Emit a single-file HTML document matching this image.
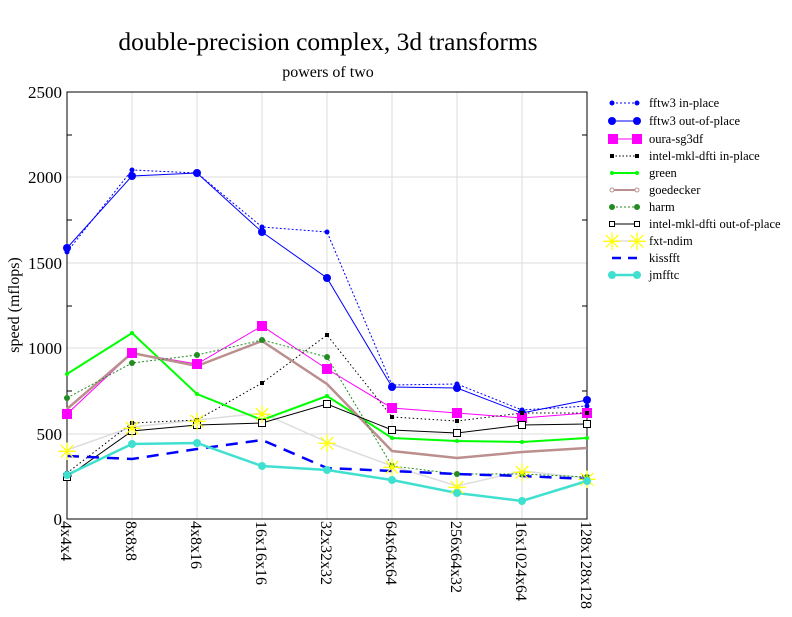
<!DOCTYPE html><html><head><style>body{margin:0;background:#fff}svg{font-family:"Liberation Serif",serif}</style></head><body>
<svg width="792" height="612" xmlns="http://www.w3.org/2000/svg">
<text x="328" y="50" font-size="25.5" text-anchor="middle">double-precision complex, 3d transforms</text>
<text x="328" y="77" font-size="16" text-anchor="middle">powers of two</text>
<g stroke="#ddd" stroke-width="1">
<line x1="67" y1="92" x2="587" y2="92"/><line x1="67" y1="177" x2="587" y2="177"/><line x1="67" y1="263" x2="587" y2="263"/><line x1="67" y1="348" x2="587" y2="348"/><line x1="67" y1="434" x2="587" y2="434"/>
<line x1="132" y1="92" x2="132" y2="519"/><line x1="197" y1="92" x2="197" y2="519"/><line x1="262" y1="92" x2="262" y2="519"/><line x1="327" y1="92" x2="327" y2="519"/><line x1="392" y1="92" x2="392" y2="519"/><line x1="457" y1="92" x2="457" y2="519"/><line x1="522" y1="92" x2="522" y2="519"/>
</g>
<g stroke="#000" stroke-width="1">
<rect x="67" y="92" width="520" height="427" fill="none"/>
<line x1="67" y1="135" x2="72" y2="135"/><line x1="67" y1="220" x2="72" y2="220"/><line x1="67" y1="306" x2="72" y2="306"/><line x1="67" y1="391" x2="72" y2="391"/><line x1="67" y1="476" x2="72" y2="476"/>
<line x1="582" y1="135" x2="587" y2="135"/><line x1="582" y1="220" x2="587" y2="220"/><line x1="582" y1="306" x2="587" y2="306"/><line x1="582" y1="391" x2="587" y2="391"/><line x1="582" y1="476" x2="587" y2="476"/>
</g>
<g font-size="17" text-anchor="end">
<text x="62" y="98">2500</text><text x="62" y="183">2000</text><text x="62" y="269">1500</text><text x="62" y="354">1000</text><text x="62" y="440">500</text><text x="62" y="525">0</text>
</g>
<text transform="translate(19,305) rotate(-90)" font-size="16" text-anchor="middle">speed (mflops)</text>
<g font-size="16">
<text transform="translate(61,521) rotate(90)">4x4x4</text>
<text transform="translate(126,521) rotate(90)">8x8x8</text>
<text transform="translate(191,521) rotate(90)">4x8x16</text>
<text transform="translate(256,521) rotate(90)">16x16x16</text>
<text transform="translate(321,521) rotate(90)">32x32x32</text>
<text transform="translate(386,521) rotate(90)">64x64x64</text>
<text transform="translate(451,521) rotate(90)">256x64x32</text>
<text transform="translate(516,521) rotate(90)">16x1024x64</text>
<text transform="translate(581,521) rotate(90)">128x128x128</text>
</g>
<g fill="none">
<polyline stroke="#ddd" stroke-width="1.5" points="67,450 132,427 197,420 262,413 327,442 392,466 457,486 522,471 587,478"/>
<polyline stroke="#00f" stroke-width="1" stroke-dasharray="2,2" points="67,252 132,170 197,173 262,227 327,232 392,385 457,384 522,410 587,406"/>
<polyline stroke="#00f" stroke-width="1" points="67,248 132,176 197,173 262,232 327,278 392,387 457,388 522,413 587,400"/>
<polyline stroke="#f0f" stroke-width="1" points="67,414 132,353 197,364 262,326 327,369 392,408 457,413 522,418 587,413"/>
<polyline stroke="#000" stroke-width="1" stroke-dasharray="1.5,2.5" points="67,473 132,423 197,420 262,383 327,335 392,417 457,421 522,413 587,413"/>
<polyline stroke="#0f0" stroke-width="2" points="67,374 132,333 197,394 262,420 327,396 392,438 457,441 522,442 587,438"/>
<polyline stroke="#bc8f8f" stroke-width="2.5" points="67,409 132,353 197,366 262,341 327,384 392,451 457,458 522,452 587,448"/>
<polyline stroke="#228b22" stroke-width="1" stroke-dasharray="2,2" points="67,398 132,363 197,355 262,340 327,357 392,466 457,474 522,474 587,477"/>
<polyline stroke="#000" stroke-width="1" points="67,477 132,431 197,425 262,423 327,404 392,430 457,433 522,425 587,424"/>
<polyline stroke="#00f" stroke-width="2.5" stroke-dasharray="12,8" points="67,456 132,459 197,449 262,440 327,468 392,471 457,474 522,476 587,479"/>
<polyline stroke="#40e0d0" stroke-width="2.5" points="67,475 132,444 197,443 262,466 327,470 392,480 457,493 522,501 587,481"/>
</g>
<g fill="#00f"><circle cx="67" cy="252" r="2.5"/><circle cx="132" cy="170" r="2.5"/><circle cx="197" cy="173" r="2.5"/><circle cx="262" cy="227" r="2.5"/><circle cx="327" cy="232" r="2.5"/><circle cx="392" cy="385" r="2.5"/><circle cx="457" cy="384" r="2.5"/><circle cx="522" cy="410" r="2.5"/><circle cx="587" cy="406" r="2.5"/>
<circle cx="67" cy="248" r="4"/><circle cx="132" cy="176" r="4"/><circle cx="197" cy="173" r="4"/><circle cx="262" cy="232" r="4"/><circle cx="327" cy="278" r="4"/><circle cx="392" cy="387" r="4"/><circle cx="457" cy="388" r="4"/><circle cx="522" cy="413" r="4"/><circle cx="587" cy="400" r="4"/></g>
<g fill="#f0f"><rect x="62" y="409" width="10" height="10"/><rect x="127" y="348" width="10" height="10"/><rect x="192" y="359" width="10" height="10"/><rect x="257" y="321" width="10" height="10"/><rect x="322" y="364" width="10" height="10"/><rect x="387" y="403" width="10" height="10"/><rect x="452" y="408" width="10" height="10"/><rect x="517" y="413" width="10" height="10"/><rect x="582" y="408" width="10" height="10"/></g>
<g fill="#000"><rect x="65" y="471" width="4" height="4"/><rect x="130" y="421" width="4" height="4"/><rect x="195" y="418" width="4" height="4"/><rect x="260" y="381" width="4" height="4"/><rect x="325" y="333" width="4" height="4"/><rect x="390" y="415" width="4" height="4"/><rect x="455" y="419" width="4" height="4"/><rect x="520" y="411" width="4" height="4"/><rect x="585" y="411" width="4" height="4"/></g>
<g fill="#0f0"><circle cx="67" cy="374" r="2"/><circle cx="132" cy="333" r="2"/><circle cx="197" cy="394" r="2"/><circle cx="262" cy="420" r="2"/><circle cx="327" cy="396" r="2"/><circle cx="392" cy="438" r="2"/><circle cx="457" cy="441" r="2"/><circle cx="522" cy="442" r="2"/><circle cx="587" cy="438" r="2"/></g>
<g fill="#228b22"><circle cx="67" cy="398" r="3"/><circle cx="132" cy="363" r="3"/><circle cx="197" cy="355" r="3"/><circle cx="262" cy="340" r="3"/><circle cx="327" cy="357" r="3"/><circle cx="392" cy="466" r="3"/><circle cx="457" cy="474" r="3"/><circle cx="522" cy="474" r="3"/><circle cx="587" cy="477" r="3"/></g>
<g fill="#fff" stroke="#000"><rect x="63.5" y="473.5" width="7" height="7"/><rect x="128.5" y="427.5" width="7" height="7"/><rect x="193.5" y="421.5" width="7" height="7"/><rect x="258.5" y="419.5" width="7" height="7"/><rect x="323.5" y="400.5" width="7" height="7"/><rect x="388.5" y="426.5" width="7" height="7"/><rect x="453.5" y="429.5" width="7" height="7"/><rect x="518.5" y="421.5" width="7" height="7"/><rect x="583.5" y="420.5" width="7" height="7"/></g>
<g fill="#ff0" font-size="24" text-anchor="middle"><text x="67" y="460">✳</text><text x="132" y="437">✳</text><text x="197" y="430">✳</text><text x="262" y="423">✳</text><text x="327" y="452">✳</text><text x="392" y="476">✳</text><text x="457" y="496">✳</text><text x="522" y="481">✳</text><text x="587" y="488">✳</text></g>
<g fill="#40e0d0"><circle cx="67" cy="475" r="4"/><circle cx="132" cy="444" r="4"/><circle cx="197" cy="443" r="4"/><circle cx="262" cy="466" r="4"/><circle cx="327" cy="470" r="4"/><circle cx="392" cy="480" r="4"/><circle cx="457" cy="493" r="4"/><circle cx="522" cy="501" r="4"/><circle cx="587" cy="481" r="4"/></g>
<g font-size="12.5">
<line x1="612" y1="103" x2="637" y2="103" stroke="#00f" stroke-dasharray="2,2"/><circle cx="612" cy="103" r="2.5" fill="#00f"/><circle cx="637" cy="103" r="2.5" fill="#00f"/><text x="649" y="107">fftw3 in-place</text>
<line x1="612" y1="121" x2="637" y2="121" stroke="#00f"/><circle cx="612" cy="121" r="4" fill="#00f"/><circle cx="637" cy="121" r="4" fill="#00f"/><text x="649" y="125">fftw3 out-of-place</text>
<line x1="612" y1="139" x2="637" y2="139" stroke="#f0f"/><rect x="608" y="134" width="10" height="10" fill="#f0f"/><rect x="632" y="134" width="10" height="10" fill="#f0f"/><text x="649" y="143">oura-sg3df</text>
<line x1="612" y1="156" x2="637" y2="156" stroke="#000" stroke-dasharray="1.5,2"/><rect x="610" y="154" width="4" height="4"/><rect x="635" y="154" width="4" height="4"/><text x="649" y="160">intel-mkl-dfti in-place</text>
<line x1="612" y1="173" x2="637" y2="173" stroke="#0f0" stroke-width="2"/><circle cx="612" cy="173" r="2" fill="#0f0"/><circle cx="637" cy="173" r="2" fill="#0f0"/><text x="649" y="177">green</text>
<line x1="612" y1="190" x2="637" y2="190" stroke="#bc8f8f" stroke-width="2"/><circle cx="612" cy="190" r="2" fill="#fff" stroke="#bc8f8f"/><circle cx="637" cy="190" r="2" fill="#fff" stroke="#bc8f8f"/><text x="649" y="194">goedecker</text>
<line x1="612" y1="207" x2="637" y2="207" stroke="#228b22" stroke-dasharray="2,2"/><circle cx="612" cy="207" r="3" fill="#228b22"/><circle cx="637" cy="207" r="3" fill="#228b22"/><text x="649" y="211">harm</text>
<line x1="612" y1="224" x2="637" y2="224" stroke="#000"/><rect x="609.5" y="221.5" width="5" height="5" fill="#fff" stroke="#000"/><rect x="634.5" y="221.5" width="5" height="5" fill="#fff" stroke="#000"/><text x="649" y="228">intel-mkl-dfti out-of-place</text>
<line x1="612" y1="241" x2="637" y2="241" stroke="#ddd" stroke-width="1.5"/><text x="612" y="250" font-size="24" fill="#ff0" text-anchor="middle">✳</text><text x="637" y="250" font-size="24" fill="#ff0" text-anchor="middle">✳</text><text x="649" y="245">fxt-ndim</text>
<line x1="612" y1="258" x2="637" y2="258" stroke="#00f" stroke-width="2.5" stroke-dasharray="9,7"/><text x="649" y="262">kissfft</text>
<line x1="612" y1="275" x2="637" y2="275" stroke="#40e0d0" stroke-width="2.5"/><circle cx="612" cy="275" r="4" fill="#40e0d0"/><circle cx="637" cy="275" r="4" fill="#40e0d0"/><text x="649" y="279">jmfftc</text>
</g>
</svg></body></html>
